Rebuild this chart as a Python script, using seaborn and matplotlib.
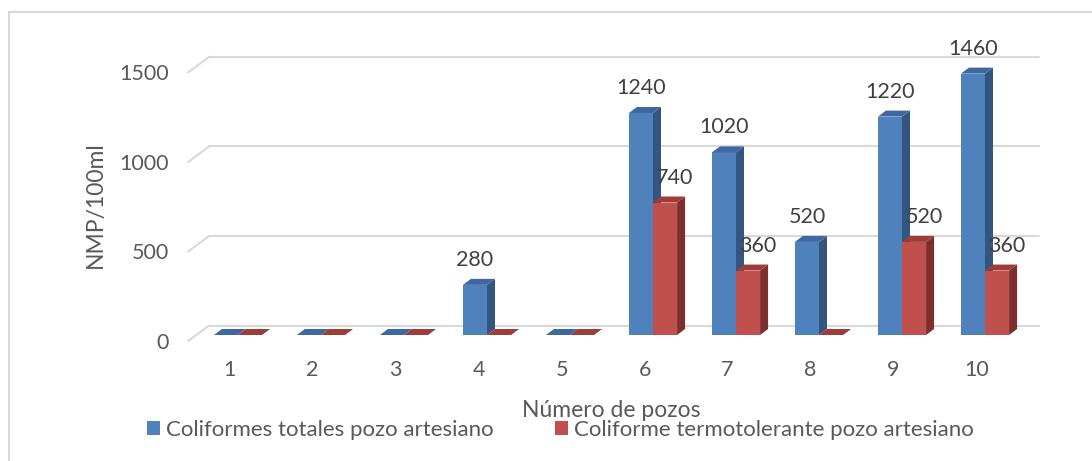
import numpy as np
import pandas as pd
import matplotlib
matplotlib.use("Agg")
import matplotlib.pyplot as plt
import seaborn as sns
from matplotlib.patches import Polygon, Patch
from matplotlib.lines import Line2D
from matplotlib.transforms import ScaledTranslation

# ---- data -------------------------------------------------------------
pozos = ["1", "2", "3", "4", "5", "6", "7", "8", "9", "10"]
coliformes_totales = [0, 0, 0, 280, 0, 1240, 1020, 520, 1220, 1460]
coliforme_termotolerante = [0, 0, 0, 0, 0, 740, 360, 0, 520, 360]
series = ["Coliformes totales pozo artesiano",
          "Coliforme termotolerante pozo artesiano"]
y_ticks = [0, 500, 1000, 1500]

df = pd.DataFrame({
    "pozo": pozos * 2,
    "serie": [series[0]] * len(pozos) + [series[1]] * len(pozos),
    "valor": coliformes_totales + coliforme_termotolerante,
})

# ---- style ------------------------------------------------------------
sns.set_theme(style="white")
plt.rcParams["font.family"] = ["Lato", "DejaVu Sans"]
FS = 15.5
FS_TXT = 16.5
FS_LEG = 16
TXT = "#595959"
LBL = "#404040"
GRID = "#D9D9D9"
front = ["#4F81BD", "#C0504D"]
side = ["#34557F", "#7E2F2D"]
top = ["#3E68A0", "#9E3C3A"]

W, H = 1092, 461
fig = plt.figure(figsize=(W / 100, H / 100), dpi=100)
ax_l, ax_b, ax_w, ax_h = 196.5, 126, 830, 295.4
ax = fig.add_axes([ax_l / W, ax_b / H, ax_w / W, ax_h / H])

sns.barplot(data=df, x="pozo", y="valor", hue="serie", order=pozos,
            hue_order=series, palette=front, saturation=1, width=0.58,
            errorbar=None, legend=False, ax=ax)

xlim = (-0.5, 9.5)
ylim = (0, 1650)
ax.set_xlim(*xlim)
ax.set_ylim(*ylim)
ux = (xlim[1] - xlim[0]) / ax_w     # data units per pixel, x
uy = (ylim[1] - ylim[0]) / ax_h     # data units per pixel, y

# depth offsets in pixels (right, up) relative to the bar front plane
bar_depth = (8, 6)
back = (12.6, 9.5)
floor_front = (-8.4, -6)

# ---- back wall gridlines with the left floor diagonal -----------------
for v in y_ticks:
    ax.add_line(Line2D([xlim[0] + back[0] * ux, xlim[1] + back[0] * ux],
                       [v + back[1] * uy, v + back[1] * uy],
                       color=GRID, lw=1.5, zorder=0.5, clip_on=False))
    ax.add_line(Line2D([xlim[0] + floor_front[0] * ux, xlim[0] + back[0] * ux],
                       [v + floor_front[1] * uy, v + back[1] * uy],
                       color=GRID, lw=1.5, zorder=0.5, clip_on=False))

# ---- 3D faces on each bar ---------------------------------------------
dx, dy = bar_depth[0] * ux, bar_depth[1] * uy
for k, cont in enumerate(ax.containers):
    z = 2 + 1.5 * k
    for bar in cont:
        x0, w, h = bar.get_x(), bar.get_width(), bar.get_height()
        bar.set_zorder(z)
        bar.set_edgecolor("none")
        ax.add_patch(Polygon([(x0 + w, 0), (x0 + w + dx, dy),
                              (x0 + w + dx, h + dy), (x0 + w, h)],
                             closed=True, facecolor=side[k], edgecolor="none",
                             zorder=z + 0.5, clip_on=False))
        ax.add_patch(Polygon([(x0, h), (x0 + w, h), (x0 + w + dx, h + dy),
                              (x0 + dx, h + dy)],
                             closed=True, facecolor=top[k], edgecolor="none",
                             zorder=z + 0.6, clip_on=False))

# ---- data labels --------------------------------------------------------
label_shift = [0, 10]
for k, (cont, vals) in enumerate(zip(ax.containers,
                                     [coliformes_totales, coliforme_termotolerante])):
    for bar, v in zip(cont, vals):
        if v == 0:
            continue
        ax.annotate(f"{v}", (bar.get_x() + bar.get_width() / 2, v),
                    xytext=(label_shift[k], 25), textcoords="offset pixels",
                    ha="center", va="center", fontsize=FS, color=LBL,
                    zorder=10, annotation_clip=False)

# ---- axes, ticks and labels ------------------------------------------
for s in ax.spines.values():
    s.set_visible(False)
ax.patch.set_visible(False)
ax.set_yticks(y_ticks)
ax.set_yticklabels([str(t) for t in y_ticks])
ax.tick_params(axis="both", length=0, labelsize=FS, labelcolor=TXT)
ax.tick_params(axis="y", pad=14)
ax.tick_params(axis="x", pad=14)
shift = ScaledTranslation(floor_front[0] / 100, floor_front[1] / 100,
                          fig.dpi_scale_trans)
for lab in ax.get_xticklabels() + ax.get_yticklabels():
    lab.set_transform(lab.get_transform() + shift)

ax.set_xlabel("Número de pozos", fontsize=FS_TXT, color=TXT)
ax.xaxis.set_label_coords(0.5, (335 - 410) / ax_h)
ax.xaxis.label.set_va("center")
ax.set_ylabel("NMP/100ml", fontsize=FS_TXT, color=TXT)
ax.yaxis.set_label_coords((95 - ax_l) / ax_w, (335 - 205) / ax_h)
ax.yaxis.label.set_va("center")

# ---- legend -----------------------------------------------------------
fs_px = FS_LEG * 100 / 72
handles = [Patch(facecolor=front[0], edgecolor="none"),
           Patch(facecolor=front[1], edgecolor="none")]
fig.legend(handles, series, loc="center", bbox_to_anchor=(560.5 / W, 1 - 430 / H),
           ncol=2, frameon=False, fontsize=FS_LEG, labelcolor=TXT,
           handlelength=13 / fs_px, handleheight=13 / fs_px,
           handletextpad=6 / fs_px, columnspacing=61 / fs_px,
           borderpad=0, borderaxespad=0)

# ---- chart frame (top and left edges) ----------------------------------
fig.add_artist(Line2D([9 / W, 9 / W], [0, 1 - 12 / H], color=GRID, lw=1.5,
                      transform=fig.transFigure))
fig.add_artist(Line2D([9 / W, 1], [1 - 12 / H, 1 - 12 / H], color=GRID, lw=1.5,
                      transform=fig.transFigure))

fig.savefig("out.png", dpi=100, facecolor="white")
